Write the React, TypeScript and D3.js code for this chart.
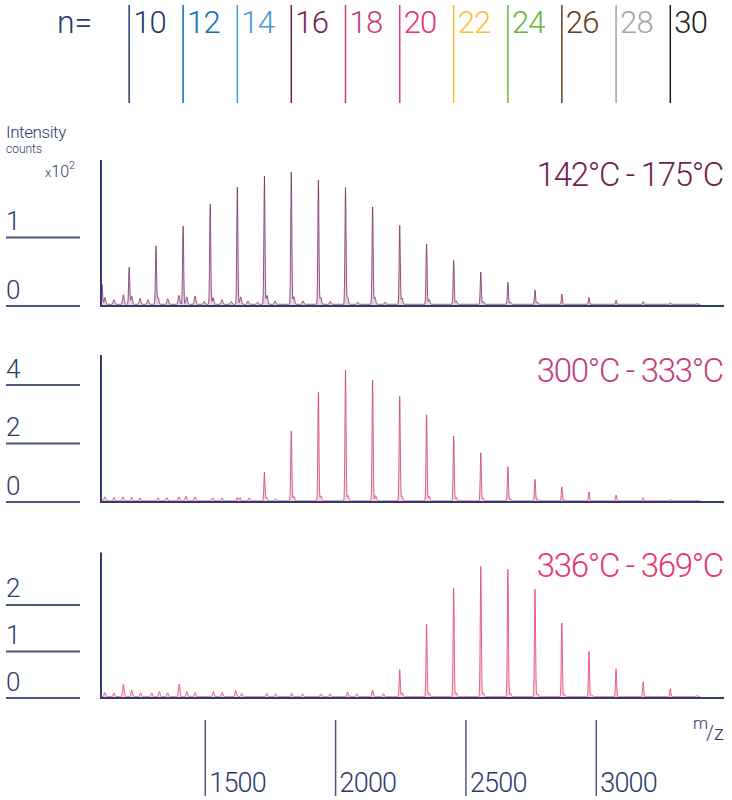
import React from "react";
import * as d3 from "d3";

// ---- data ----
const oligomerN = [9, 10, 11, 12, 13, 14, 15, 16, 17, 18, 19, 20, 21, 22, 23, 24, 25, 26, 27, 28, 29, 30, 31];
const oligomerMz = [1104, 1208, 1311, 1415, 1519, 1623, 1727, 1830, 1934, 2038, 2142, 2246, 2349, 2453, 2557, 2661, 2765, 2868, 2972, 3076, 3180, 3284, 3387];

const legendN = [10, 12, 14, 16, 18, 20, 22, 24, 26, 28, 30];
const legendColors = ["#283a6a", "#0b6db4", "#4b9ad6", "#6f1e50", "#c43c7c", "#e8336d", "#f9c234", "#6cb33f", "#6a3c17", "#a5a5a5", "#1e1e1e"];

const xTicks = [1500, 2000, 2500, 3000];

// main oligomer peak heights (x10^2 counts), n = 9..31
const heights142 = [0.29, 0.54, 0.85, 1.14, 1.46, 1.71, 1.87, 1.93, 1.81, 1.70, 1.42, 1.15, 0.88, 0.64, 0.47, 0.32, 0.21, 0.15, 0.10, 0.06, 0.04, 0.02, 0.01];
const heights300 = [0, 0, 0, 0, 0, 0.12, 0.98, 2.39, 3.71, 4.46, 4.13, 3.57, 2.94, 2.21, 1.64, 1.17, 0.74, 0.48, 0.30, 0.20, 0.11, 0.05, 0.02];
const heights336 = [0, 0, 0, 0, 0, 0, 0, 0, 0, 0, 0.03, 0.58, 1.56, 2.33, 2.80, 2.74, 2.31, 1.58, 0.97, 0.60, 0.32, 0.17, 0.03];

// minor peaks [m/z, height]
const minor142: [number, number][] = [
  [1115, 0.10], [1150, 0.07], [1186, 0.14], [1218, 0.12], [1250, 0.09], [1280, 0.07], [1319, 0.10], [1356, 0.08],
  [1399, 0.13], [1429, 0.11], [1461, 0.12], [1496, 0.04], [1530, 0.10], [1564, 0.07], [1600, 0.04], [1636, 0.11],
  [1664, 0.05], [1700, 0.03], [1737, 0.13], [1768, 0.05], [1840, 0.11], [1875, 0.05], [1943, 0.10], [1980, 0.04],
  [2046, 0.10], [2085, 0.03], [2151, 0.10], [2190, 0.03], [2255, 0.09], [2359, 0.07], [2463, 0.05], [2567, 0.04],
  [2671, 0.03], [2775, 0.03],
];
const minor300: [number, number][] = [
  [1115, 0.14], [1150, 0.12], [1184, 0.14], [1218, 0.12], [1250, 0.10], [1319, 0.11], [1353, 0.11], [1399, 0.14],
  [1426, 0.16], [1461, 0.14], [1529, 0.10], [1564, 0.10], [1633, 0.11], [1668, 0.10], [1736, 0.12], [1770, 0.07],
  [1840, 0.15], [1944, 0.17], [2048, 0.18], [2154, 0.18], [2255, 0.17], [2359, 0.16], [2463, 0.12], [2567, 0.09],
  [2671, 0.07], [2775, 0.05], [2879, 0.04],
];
const minor336: [number, number][] = [
  [1115, 0.09], [1150, 0.08], [1186, 0.26], [1218, 0.14], [1252, 0.08], [1295, 0.08], [1324, 0.11], [1356, 0.08],
  [1400, 0.27], [1429, 0.11], [1461, 0.09], [1531, 0.11], [1565, 0.09], [1617, 0.13], [1640, 0.07], [1736, 0.07],
  [1770, 0.06], [1832, 0.07], [1874, 0.06], [1944, 0.06], [1979, 0.06], [2046, 0.10], [2081, 0.06], [2142, 0.11],
  [2183, 0.06], [2256, 0.08], [2359, 0.08], [2463, 0.08], [2567, 0.08], [2671, 0.07], [2775, 0.06], [2879, 0.05],
  [2983, 0.04],
];

const panelTitles = ["142°C - 175°C", "300°C - 333°C", "336°C - 369°C"];
const panelTicks = [[0, 1], [0, 2, 4], [0, 1, 2]];
const panelMax = [2.131, 5.026, 3.129];
const panelBase = [0.025, 0.04, 0.03];

// ---- style ----
const FONT = "Roboto, 'Open Sans', 'DejaVu Sans', sans-serif";
const NAVY = "#2b3a6b";
const AXIS = "#2f3d6c";
const TICKLINE = "#4b5883";

const panelStyles = [
  { title: "#6f1e50", stroke: "#7b2b63", fill: "#dcc0d4", top: 160, zero: 306, ty: 186 },
  { title: "#c43c7c", stroke: "#cb3a7d", fill: "#f4c9dc", top: 355, zero: 502, ty: 382 },
  { title: "#e8336d", stroke: "#e83a6e", fill: "#f8c4d3", top: 552.5, zero: 698, ty: 577 },
];

const xScale = d3.scaleLinear().domain([1100, 3490]).range([101, 724]);

function buildSpectrum(main: number[], minor: [number, number][], base: number) {
  const peaks = [
    ...oligomerMz.map((mz, i) => ({ mz, h: main[i], s: 2.1 })),
    ...minor.map(([mz, h]) => ({ mz, h, s: 3.0 })),
  ].filter((p) => p.h > 0);
  const grid = d3.range(1100, 3400.5, 1);
  return grid.map((mz) => {
    let v = base;
    for (const p of peaks) {
      const d = (mz - p.mz) / p.s;
      if (Math.abs(d) < 5) v += p.h * Math.exp(-0.5 * d * d);
    }
    return [mz, v] as [number, number];
  });
}

const mainSets = [heights142, heights300, heights336];
const minorSets = [minor142, minor300, minor336];

function Panel({ idx }: { idx: number }) {
  const st = panelStyles[idx];
  const y = d3.scaleLinear().domain([0, panelMax[idx]]).range([st.zero, st.top]);
  const data = buildSpectrum(mainSets[idx], minorSets[idx], panelBase[idx]);
  const area = d3.area<[number, number]>().x((d) => xScale(d[0])).y0(st.zero).y1((d) => y(d[1]));
  const line = d3.line<[number, number]>().x((d) => xScale(d[0])).y((d) => y(d[1]));
  const [x0, x1] = xScale.range();
  return (
    <g>
      {panelTicks[idx].map((t) => (
        <g key={t}>
          <text x={6} y={y(t) - 7.5} fontSize={26} fontWeight={300} fill={NAVY} fontFamily={FONT}>{t}</text>
          <line x1={6} x2={80} y1={y(t)} y2={y(t)} stroke={TICKLINE} strokeWidth={2} />
        </g>
      ))}
      <path d={area(data) || ""} fill={st.fill} opacity={0.7} />
      <path d={line(data) || ""} fill="none" stroke={st.stroke} strokeWidth={0.8} strokeLinejoin="round" />
      <line x1={x0} x2={x0} y1={st.top} y2={st.zero} stroke={AXIS} strokeWidth={2} />
      <line x1={x0 - 1} x2={x1} y1={st.zero} y2={st.zero} stroke={AXIS} strokeWidth={2} />
      <text x={723} y={st.ty} textAnchor="end" fontSize={33} fontWeight={300} letterSpacing={-1.3}
        fill={st.title} fontFamily={FONT}>{panelTitles[idx]}</text>
    </g>
  );
}

export default function App() {
  return (
    <svg width={732} height={800} style={{ position: "absolute", left: 0, top: 0, background: "#fff" }}>
      {/* legend */}
      <text x={57} y={33} fontSize={32} fontWeight={300} fill={NAVY} fontFamily={FONT}>n=</text>
      {legendN.map((n, i) => {
        const mz = oligomerMz[oligomerN.indexOf(n)];
        const x = xScale(mz);
        return (
          <g key={n}>
            <line x1={x} x2={x} y1={5} y2={103} stroke={legendColors[i]} strokeWidth={1.5} />
            <text x={x + 4} y={33} fontSize={31} fontWeight={300} letterSpacing={-0.8} fill={legendColors[i]} fontFamily={FONT}>{n}</text>
          </g>
        );
      })}

      {/* y-axis title */}
      <text x={6} y={138} fontSize={17} fontWeight={300} letterSpacing={-0.4} fill={NAVY} fontFamily={FONT}>Intensity</text>
      <text x={6} y={153} fontSize={12} fontWeight={300} fill={NAVY} fontFamily={FONT}>counts</text>
      <text x={45} y={177} fontSize={16} fontWeight={300} fill={NAVY} fontFamily={FONT}>
        <tspan fontSize={13}>x</tspan>10<tspan fontSize={11} dy={-8}>2</tspan>
      </text>

      {[0, 1, 2].map((i) => <Panel key={i} idx={i} />)}

      {/* x axis ticks */}
      {xTicks.map((t) => (
        <g key={t}>
          <line x1={xScale(t)} x2={xScale(t)} y1={720} y2={796} stroke={TICKLINE} strokeWidth={1.5} />
          <text x={xScale(t) + 4} y={792} fontSize={27} fontWeight={300} letterSpacing={-0.8} fill={NAVY} fontFamily={FONT}>{t}</text>
        </g>
      ))}
      <text x={693} y={729} fontSize={17} fontWeight={300} fill={NAVY} fontFamily={FONT}>m</text>
      <text x={706} y={740} fontSize={20} fontWeight={300} fill={NAVY} fontFamily={FONT}>/z</text>
    </svg>
  );
}
